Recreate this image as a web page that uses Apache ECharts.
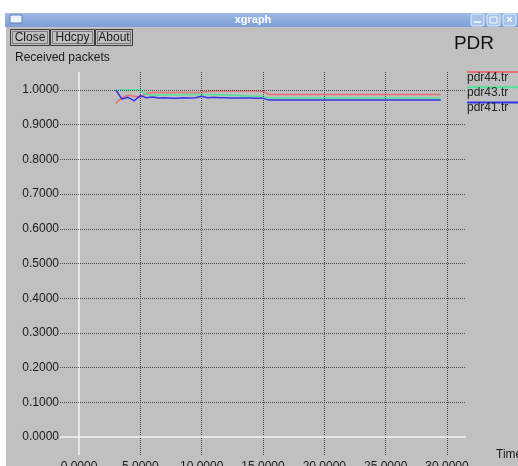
<!DOCTYPE html>
<html>
<head>
<meta charset="utf-8">
<script src="https://cdn.jsdelivr.net/npm/echarts@6/dist/echarts.min.js"></script>
<style>
html,body{margin:0;padding:0;background:#fff;}
#chart{width:518px;height:466px;}
</style>
</head>
<body>
<div id="chart"></div>
<script>
// ---- data ----
var times = [3, 3.5, 4, 4.5, 5, 5.5, 6, 6.5, 7, 7.5, 8, 8.5, 9, 9.5, 10, 10.5, 11, 11.5, 12, 12.5, 13, 13.5, 14, 14.5, 15, 15.5, 20, 25, 29.5];
var pdr44 = [0.962, 0.978, 0.985, 0.982, 0.979, 0.991, 0.993, 0.993, 0.993, 0.992, 0.993, 0.993, 0.993, 0.992, 0.994, 0.996, 0.997, 0.997, 0.997, 0.997, 0.997, 0.997, 0.997, 0.997, 0.996, 0.987, 0.987, 0.987, 0.987];
var pdr43 = [1.000, 1.000, 1.000, 1.000, 1.000, 0.987, 0.986, 0.986, 0.987, 0.986, 0.986, 0.987, 0.987, 0.987, 0.987, 0.987, 0.987, 0.986, 0.986, 0.985, 0.984, 0.983, 0.983, 0.982, 0.982, 0.977, 0.977, 0.977, 0.977];
var pdr41 = [1.000, 0.974, 0.979, 0.969, 0.984, 0.978, 0.980, 0.977, 0.978, 0.976, 0.976, 0.978, 0.977, 0.978, 0.982, 0.978, 0.979, 0.978, 0.978, 0.977, 0.977, 0.977, 0.977, 0.976, 0.976, 0.971, 0.971, 0.971, 0.971];
var seriesNames = ['pdr44.tr', 'pdr43.tr', 'pdr41.tr'];
var xTicks = [0, 5, 10, 15, 20, 25, 30];
var yTicks = [0, 0.1, 0.2, 0.3, 0.4, 0.5, 0.6, 0.7, 0.8, 0.9, 1.0];

// ---- styling ----
var colors = ['#ec6f74', '#4fe596', '#3434ee'];
var XMIN = -1.55, XMAX = 31.55, YMIN = -0.052, YMAX = 1.052;
var FONT = '"Liberation Sans", Arial, sans-serif';

function pairs(xs, ys) { return xs.map(function (x, i) { return [x, ys[i]]; }); }

var gridLines = [];
xTicks.forEach(function (t) {
  gridLines.push([{ coord: [t, YMIN], lineStyle: t === 0 ? { color: '#f4f4f4', type: 'solid', width: 1.5 } : undefined },
                  { coord: [t, YMAX] }]);
});
yTicks.forEach(function (t) {
  gridLines.push([{ coord: [XMIN, t], lineStyle: t === 0 ? { color: '#f4f4f4', type: 'solid', width: 1.5 } : undefined },
                  { coord: [XMAX, t] }]);
});

var chart = echarts.init(document.getElementById('chart'), null, { renderer: 'canvas' });

function button(x, w, label) {
  return {
    type: 'group', left: x, top: 29,
    children: [
      { type: 'rect', shape: { x: 0, y: 0, width: w, height: 16 }, style: { fill: '#c0c0c0', stroke: '#3a3a3a', lineWidth: 1 } },
      { type: 'rect', shape: { x: 2, y: 2, width: w - 4, height: 12 }, style: { fill: 'none', stroke: '#7a7a7a', lineWidth: 1 } },
      { type: 'text', x: w / 2, y: 8, style: { text: label, font: '12px ' + FONT, fill: '#1a1a1a', align: 'center', verticalAlign: 'middle' } }
    ]
  };
}

var legendChildren = [];
seriesNames.forEach(function (n, i) {
  var y = 72 + i * 15.3;
  legendChildren.push({ type: 'line', shape: { x1: 467, y1: y, x2: 518, y2: y }, style: { stroke: colors[i], lineWidth: 2 } });
  legendChildren.push({ type: 'text', x: 467, y: y + 5.5, style: { text: n, font: '12px ' + FONT, fill: '#222', align: 'left', verticalAlign: 'middle' } });
});

var option = {
  animation: false,
  backgroundColor: '#c0c0c0',
  textStyle: { fontFamily: FONT },
  title: [
    { text: 'Received packets', left: 10, top: 47, textStyle: { fontSize: 12, fontWeight: 'normal', color: '#1a1a1a', fontFamily: FONT } },
    { text: 'PDR', right: 19, top: 29, textStyle: { fontSize: 19, fontWeight: 'normal', color: '#111', fontFamily: FONT } }
  ],
  grid: { left: 60, right: 52, top: 72, bottom: 11, containLabel: false, outerBoundsMode: 'none' },
  xAxis: {
    type: 'value', min: XMIN, max: XMAX,
    name: 'Time', nameLocation: 'end', nameGap: 30,
    nameTextStyle: { fontSize: 12, color: '#1a1a1a', fontFamily: FONT, align: 'left', verticalAlign: 'middle' },
    axisLine: { show: false, onZero: false }, axisTick: { show: false }, splitLine: { show: false },
    axisLabel: { customValues: xTicks, margin: 6, fontSize: 12, color: '#1a1a1a', fontFamily: FONT,
                 formatter: function (v) { return Number(v).toFixed(4); } }
  },
  yAxis: {
    type: 'value', min: YMIN, max: YMAX,
    axisLine: { show: false, onZero: false }, axisTick: { show: false }, splitLine: { show: false },
    axisLabel: { customValues: yTicks, margin: 1, fontSize: 12, color: '#1a1a1a', fontFamily: FONT,
                 formatter: function (v) { return Number(v).toFixed(4); } }
  },
  graphic: [
    { type: 'rect', shape: { x: 0, y: 0, width: 518, height: 13 }, style: { fill: '#ffffff' }, z: -1 },
    { type: 'rect', shape: { x: 0, y: 0, width: 6, height: 466 }, style: { fill: '#ffffff' }, z: -1 },
    { type: 'rect', shape: { x: 5, y: 13, width: 513, height: 14 },
      style: { fill: new echarts.graphic.LinearGradient(0, 0, 0, 1, [{ offset: 0, color: '#9db9e4' }, { offset: 1, color: '#7c9fd6' }]) } },
    { type: 'rect', shape: { x: 10, y: 15, width: 12, height: 8 }, style: { fill: '#eef2fa', stroke: '#5d7fb8', lineWidth: 1 } },
    { type: 'text', x: 253, y: 20, style: { text: 'xgraph', font: 'bold 11px ' + FONT, fill: '#ffffff', align: 'center', verticalAlign: 'middle' } },
    { type: 'rect', shape: { x: 471, y: 14, width: 13, height: 12, r: 2 }, style: { fill: '#a8c2ea', stroke: '#e4ecf8', lineWidth: 1 } },
    { type: 'rect', shape: { x: 487, y: 14, width: 13, height: 12, r: 2 }, style: { fill: '#a8c2ea', stroke: '#e4ecf8', lineWidth: 1 } },
    { type: 'rect', shape: { x: 503, y: 14, width: 13, height: 12, r: 2 }, style: { fill: '#a8c2ea', stroke: '#e4ecf8', lineWidth: 1 } },
    { type: 'line', shape: { x1: 474, y1: 22, x2: 481, y2: 22 }, style: { stroke: '#ffffff', lineWidth: 1.5 } },
    { type: 'rect', shape: { x: 490, y: 17, width: 7, height: 6 }, style: { fill: 'none', stroke: '#ffffff', lineWidth: 1 } },
    { type: 'text', x: 509.5, y: 20, style: { text: '×', font: 'bold 11px ' + FONT, fill: '#ffffff', align: 'center', verticalAlign: 'middle' } },
    button(10, 39, 'Close'),
    button(50, 44, 'Hdcpy'),
    button(95, 37, 'About'),
    { type: 'group', children: legendChildren }
  ],
  series: [
    {
      type: 'line', name: 'grid', data: [], silent: true, z: 1,
      markLine: {
        silent: true, symbol: ['none', 'none'], label: { show: false },
        lineStyle: { color: '#4a4a4a', type: 'dotted', width: 1 },
        data: gridLines
      }
    },
    { type: 'line', name: seriesNames[0], data: pairs(times, pdr44), showSymbol: false, z: 3, lineStyle: { color: colors[0], width: 1.5 }, itemStyle: { color: colors[0] } },
    { type: 'line', name: seriesNames[1], data: pairs(times, pdr43), showSymbol: false, z: 4, lineStyle: { color: colors[1], width: 1.5 }, itemStyle: { color: colors[1] } },
    { type: 'line', name: seriesNames[2], data: pairs(times, pdr41), showSymbol: false, z: 5, lineStyle: { color: colors[2], width: 1.5 }, itemStyle: { color: colors[2] } }
  ]
};
chart.setOption(option);
</script>
</body>
</html>
